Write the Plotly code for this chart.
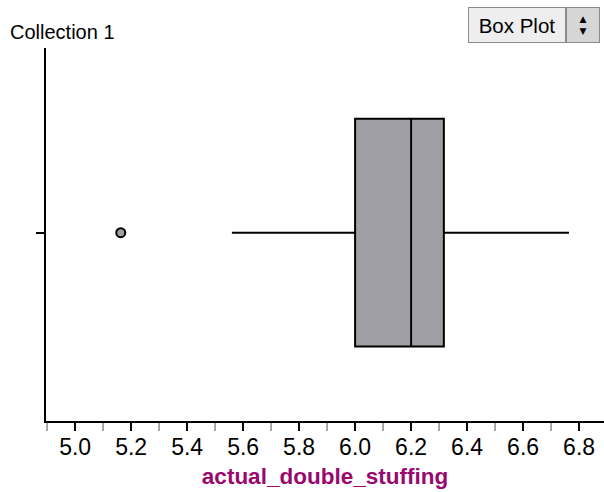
import plotly.graph_objects as go

# Data
collection = "Collection 1"
attribute = "actual_double_stuffing"
q1 = [6.0]
median = [6.20]
q3 = [6.317]
lower_whisker = [5.56]
upper_whisker = [6.764]
outliers = [5.163]
tick_vals = [5.0, 5.2, 5.4, 5.6, 5.8, 6.0, 6.2, 6.4, 6.6, 6.8]
tick_text = ["5.0", "5.2", "5.4", "5.6", "5.8", "6.0", "6.2", "6.4", "6.6", "6.8"]

FONT = "Liberation Sans, Arial, Helvetica, sans-serif"
L, R, T, B = 46, 0, 48, 71
W, H = 604, 492
PW, PH = W - L - R, H - T - B


def px(x):
    return (x - L) / PW


def py(y):
    return (H - B - y) / PH


fig = go.Figure()
fig.add_trace(go.Box(
    y=[0], orientation="h",
    q1=q1, median=median, q3=q3,
    lowerfence=lower_whisker, upperfence=upper_whisker,
    fillcolor="#a09fa5",
    line=dict(color="black", width=2),
    whiskerwidth=0, width=1.22,
    boxpoints=False, hoverinfo="skip", showlegend=False,
))
fig.add_trace(go.Scatter(
    x=outliers, y=[0] * len(outliers), mode="markers",
    marker=dict(size=9, color="#a09fa5", line=dict(color="black", width=2)),
    showlegend=False, hoverinfo="skip",
))

fig.update_layout(
    width=W, height=H,
    margin=dict(l=L, r=R, t=T, b=B),
    paper_bgcolor="white", plot_bgcolor="white",
    font=dict(family=FONT, color="black"),
    title=dict(text=collection, x=10 / W, xanchor="left", xref="container",
               y=1 - 32 / H, yanchor="middle", yref="container",
               font=dict(size=20, family=FONT, color="black")),
    xaxis=dict(
        range=[4.896, 6.889], showgrid=False, zeroline=False,
        showline=True, linecolor="black", linewidth=2,
        tickmode="array", tickvals=tick_vals, ticktext=tick_text,
        ticks="outside", ticklen=8, tickwidth=2, tickcolor="black",
        tickfont=dict(size=23, family=FONT, color="black"),
        ticklabelstandoff=-4,
        minor=dict(dtick=0.1, tick0=0, ticks="outside", ticklen=8, tickwidth=2, tickcolor="#a8a8a8"),
        title=dict(text="<b>" + attribute + "</b>", standoff=10,
                   font=dict(size=22.5, family=FONT, color="#99086e")),
        fixedrange=True,
    ),
    yaxis=dict(
        range=[-1.01, 0.99], showgrid=False, zeroline=False,
        showline=True, linecolor="black", linewidth=2,
        tickvals=[0], ticktext=[""], ticks="outside", ticklen=8, tickwidth=2, tickcolor="black",
        fixedrange=True,
    ),
)
fig.add_annotation(text="Box Plot", xref="paper", yref="paper",
                   x=px(468), y=py(25),
                   xanchor="left", yanchor="middle", showarrow=False,
                   width=90, height=28, align="center",
                   font=dict(size=20.5, family=FONT, color="black"),
                   bgcolor="#eeeeee", bordercolor="#8a8a8a", borderwidth=1, borderpad=3)
fig.add_annotation(text="▲<br>▼", xref="paper", yref="paper",
                   x=px(566), y=py(25),
                   xanchor="left", yanchor="middle", showarrow=False,
                   width=26, height=28, align="center",
                   font=dict(size=9, family="DejaVu Sans", color="black"),
                   bgcolor="#d6d6d6", bordercolor="#8a8a8a", borderwidth=1, borderpad=3)

fig.write_html("out.html", config={"displayModeBar": False},
               post_script="document.body.style.margin='0';document.body.style.padding='0';")
